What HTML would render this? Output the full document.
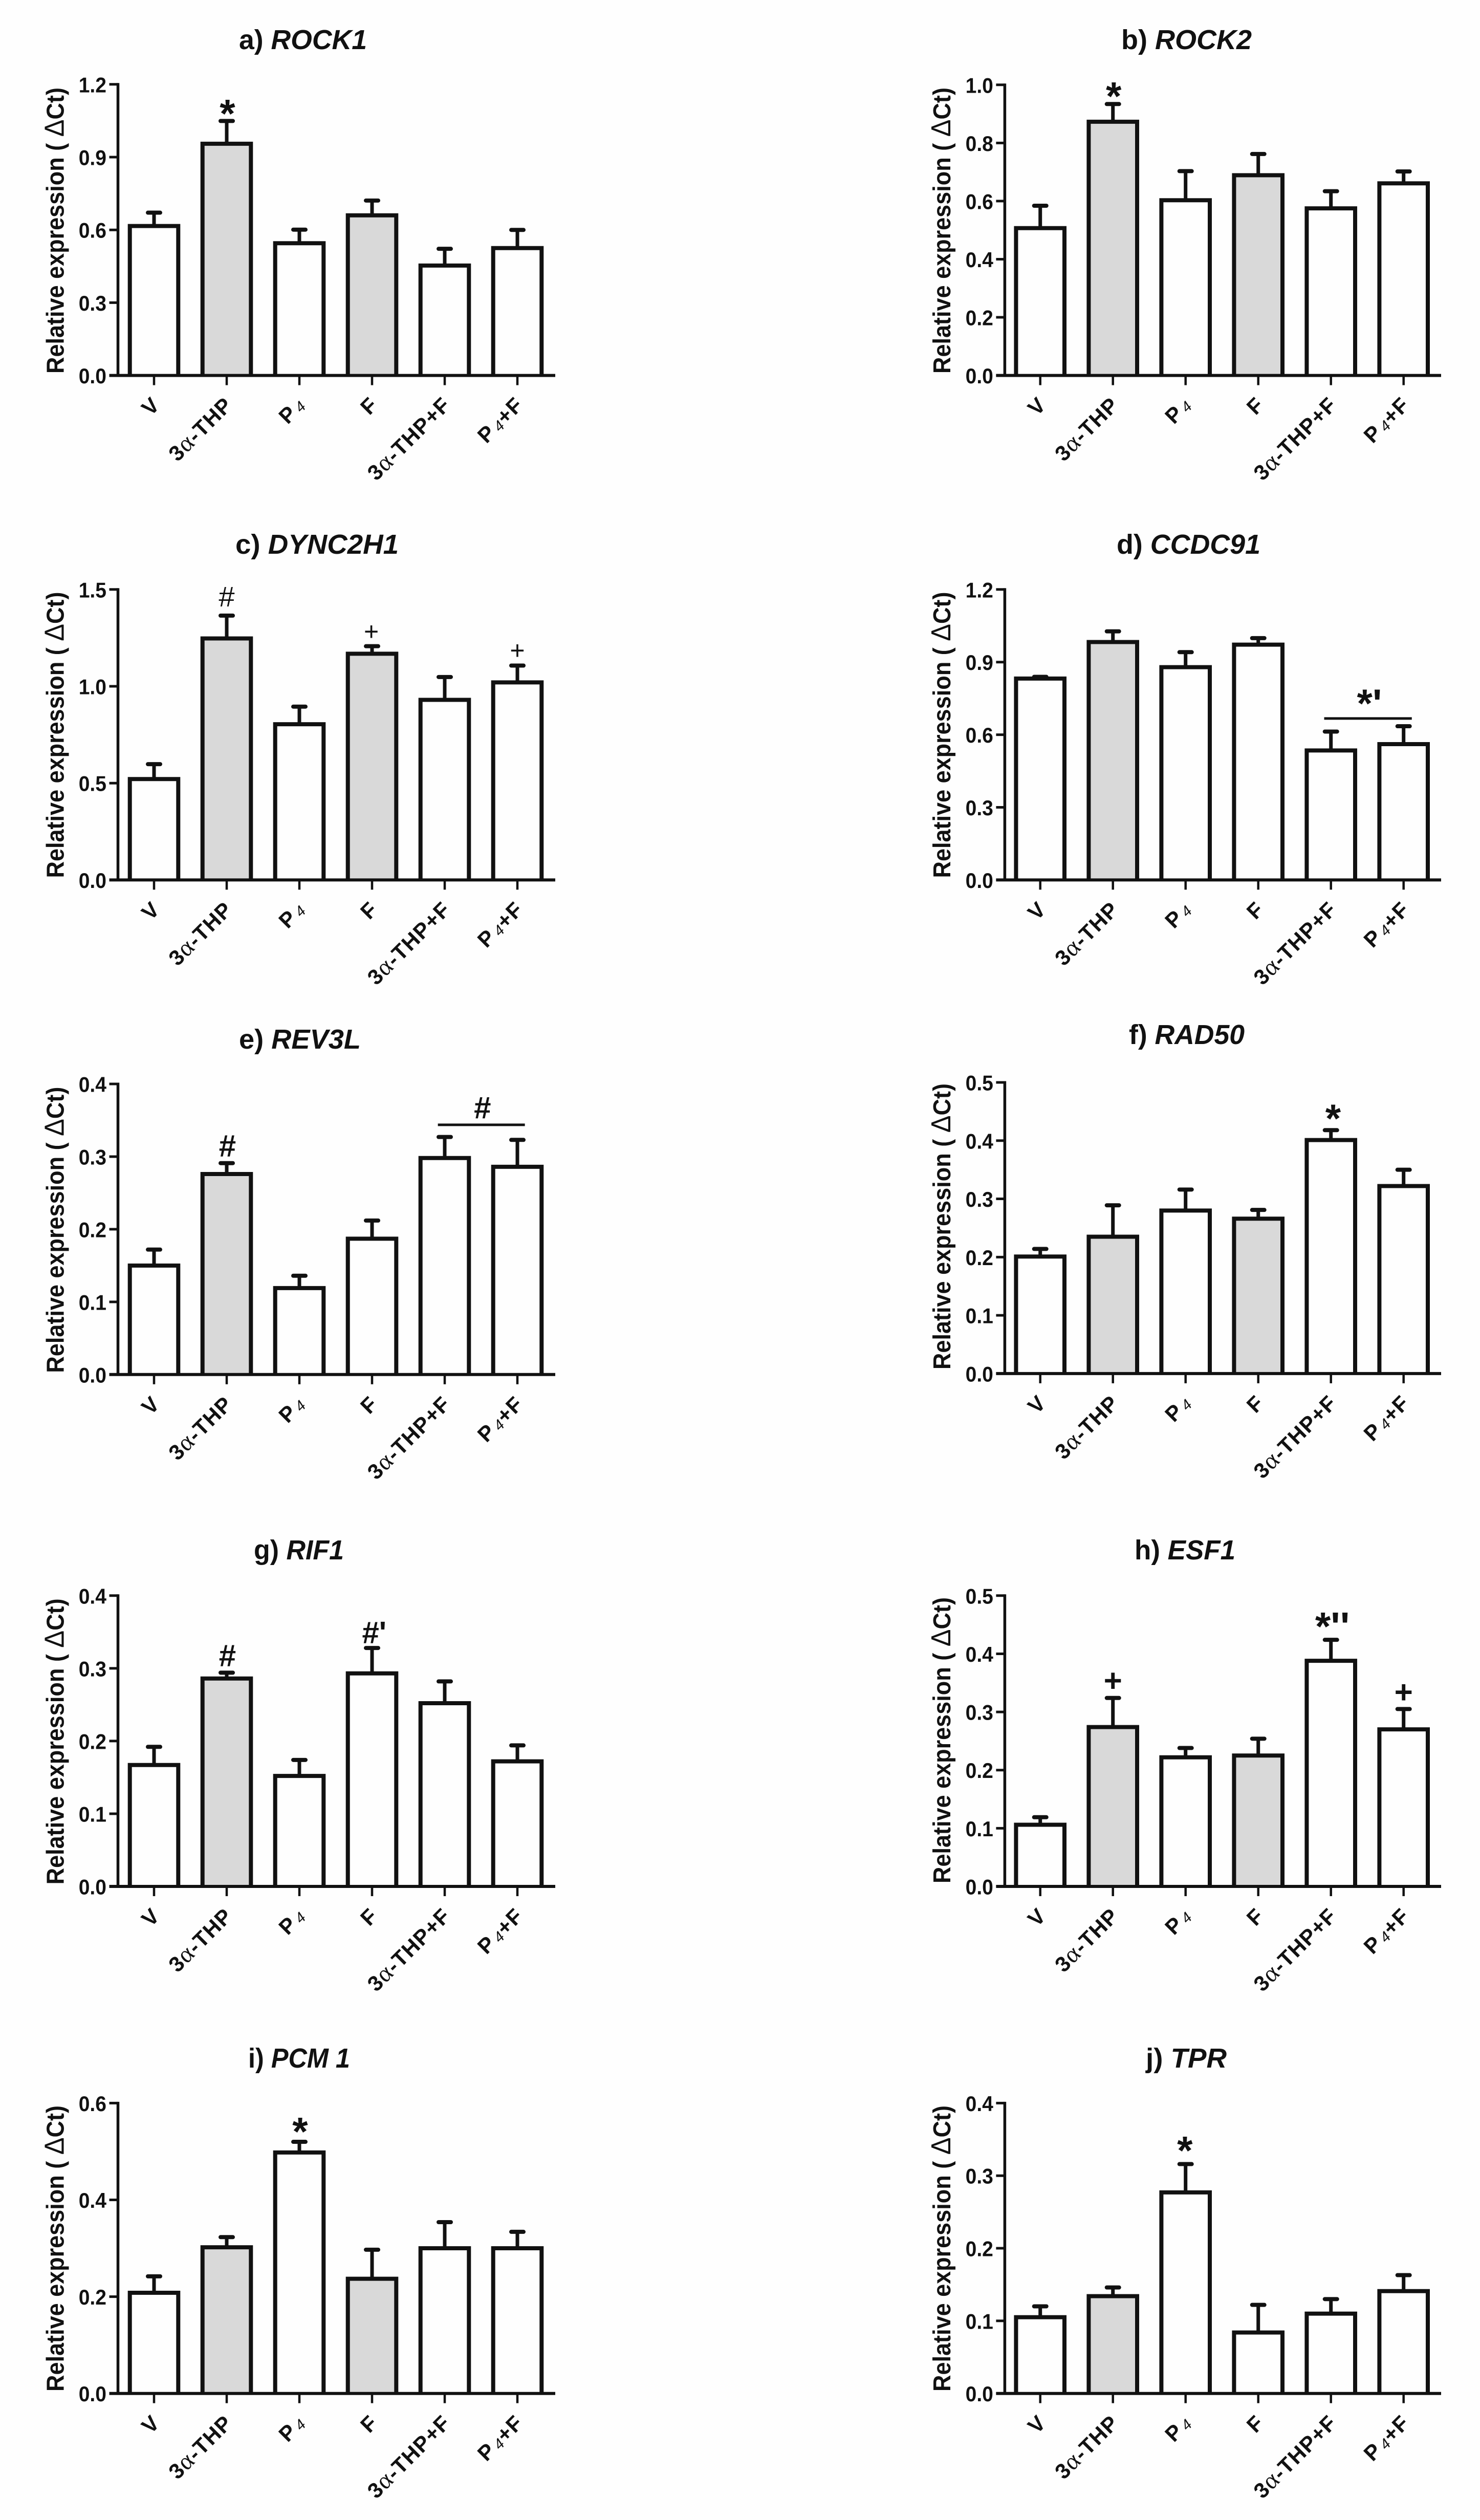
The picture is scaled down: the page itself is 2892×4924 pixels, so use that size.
<!DOCTYPE html>
<html lang="en">
<head>
<meta charset="utf-8">
<title>Relative expression panels</title>
<style>
html,body{margin:0;padding:0;background:#fefefe}
svg{display:block}
text{font-family:"Liberation Sans",sans-serif;fill:#111;font-weight:bold}
.title{font-size:54px}
.ytitle{font-size:48px}
.ytitle tspan{font-weight:normal;font-size:54px}
.gene{font-style:italic}
</style>
</head>
<body>
<svg id="figure" xmlns="http://www.w3.org/2000/svg" width="2892" height="4924" viewBox="0 0 2892 4924">
<rect x="0" y="0" width="2892" height="4924" fill="#fefefe"/>

<g id="panel-a">
<text class="title" x="467" y="96" textLength="250" lengthAdjust="spacingAndGlyphs">a) <tspan class="gene">ROCK1</tspan></text>
<text class="ytitle" transform="translate(124.4 730) rotate(-90)" textLength="559" lengthAdjust="spacingAndGlyphs">Relative expression ( <tspan>Δ</tspan>Ct)</text>
</g>
<g id="panel-b">
<text class="title" x="2191" y="96" textLength="255" lengthAdjust="spacingAndGlyphs">b) <tspan class="gene">ROCK2</tspan></text>
<text class="ytitle" transform="translate(1857 730) rotate(-90)" textLength="559" lengthAdjust="spacingAndGlyphs">Relative expression ( <tspan>Δ</tspan>Ct)</text>
</g>
<g id="panel-c">
<text class="title" x="460" y="1082" textLength="319" lengthAdjust="spacingAndGlyphs">c) <tspan class="gene">DYNC2H1</tspan></text>
<text class="ytitle" transform="translate(124.4 1715.5) rotate(-90)" textLength="559" lengthAdjust="spacingAndGlyphs">Relative expression ( <tspan>Δ</tspan>Ct)</text>
</g>
<g id="panel-d">
<text class="title" x="2182" y="1082" textLength="281" lengthAdjust="spacingAndGlyphs">d) <tspan class="gene">CCDC91</tspan></text>
<text class="ytitle" transform="translate(1857 1715.5) rotate(-90)" textLength="559" lengthAdjust="spacingAndGlyphs">Relative expression ( <tspan>Δ</tspan>Ct)</text>
</g>
<g id="panel-e">
<text class="title" x="467" y="2049" textLength="238" lengthAdjust="spacingAndGlyphs">e) <tspan class="gene">REV3L</tspan></text>
<text class="ytitle" transform="translate(124.4 2682.6) rotate(-90)" textLength="559" lengthAdjust="spacingAndGlyphs">Relative expression ( <tspan>Δ</tspan>Ct)</text>
</g>
<g id="panel-f">
<text class="title" x="2206" y="2040" textLength="226" lengthAdjust="spacingAndGlyphs">f) <tspan class="gene">RAD50</tspan></text>
<text class="ytitle" transform="translate(1857 2676) rotate(-90)" textLength="559" lengthAdjust="spacingAndGlyphs">Relative expression ( <tspan>Δ</tspan>Ct)</text>
</g>
<g id="panel-g">
<text class="title" x="496" y="3047" textLength="176" lengthAdjust="spacingAndGlyphs">g) <tspan class="gene">RIF1</tspan></text>
<text class="ytitle" transform="translate(124.4 3682.4) rotate(-90)" textLength="559" lengthAdjust="spacingAndGlyphs">Relative expression ( <tspan>Δ</tspan>Ct)</text>
</g>
<g id="panel-h">
<text class="title" x="2217" y="3047" textLength="197" lengthAdjust="spacingAndGlyphs">h) <tspan class="gene">ESF1</tspan></text>
<text class="ytitle" transform="translate(1857 3680) rotate(-90)" textLength="559" lengthAdjust="spacingAndGlyphs">Relative expression ( <tspan>Δ</tspan>Ct)</text>
</g>
<g id="panel-i">
<text class="title" x="485" y="4040" textLength="199" lengthAdjust="spacingAndGlyphs">i) <tspan class="gene">PCM 1</tspan></text>
<text class="ytitle" transform="translate(124.4 4673) rotate(-90)" textLength="559" lengthAdjust="spacingAndGlyphs">Relative expression ( <tspan>Δ</tspan>Ct)</text>
</g>
<g id="panel-j">
<text class="title" x="2239" y="4040" textLength="158" lengthAdjust="spacingAndGlyphs">j) <tspan class="gene">TPR</tspan></text>
<text class="ytitle" transform="translate(1857 4673) rotate(-90)" textLength="559" lengthAdjust="spacingAndGlyphs">Relative expression ( <tspan>Δ</tspan>Ct)</text>
</g>
</svg>

<script>
// ---- Data ----
const categories = ['V', '3α-THP', 'P4', 'F', '3α-THP+F', 'P4+F'];

const rock1Ticks = ['0.0', '0.3', '0.6', '0.9', '1.2'];
const rock1Values = [0.616, 0.955, 0.545, 0.66, 0.453, 0.525];
const rock1Upper = [0.671, 1.049, 0.601, 0.721, 0.522, 0.6];
const rock1Shaded = [1, 3];
const rock1Notes = [{cat: 1.01, level: 1.11, text: '*', kind: 'star'}];
const rock1Brackets = [];

const rock2Ticks = ['0.0', '0.2', '0.4', '0.6', '0.8', '1.0'];
const rock2Values = [0.507, 0.873, 0.603, 0.689, 0.575, 0.661];
const rock2Upper = [0.584, 0.934, 0.703, 0.762, 0.634, 0.702];
const rock2Shaded = [1, 3];
const rock2Notes = [{cat: 1.01, level: 0.986, text: '*', kind: 'star'}];
const rock2Brackets = [];

const dync2h1Ticks = ['0.0', '0.5', '1.0', '1.5'];
const dync2h1Values = [0.521, 1.247, 0.804, 1.168, 0.93, 1.02];
const dync2h1Upper = [0.598, 1.365, 0.895, 1.207, 1.048, 1.107];
const dync2h1Shaded = [1, 3];
const dync2h1Notes = [
  {cat: 1, level: 1.463, text: '#', kind: 'hash'},
  {cat: 2.99, level: 1.283, text: '+', kind: 'plus'},
  {cat: 5, level: 1.185, text: '+', kind: 'plus'}
];
const dync2h1Brackets = [];

const ccdc91Ticks = ['0.0', '0.3', '0.6', '0.9', '1.2'];
const ccdc91Values = [0.832, 0.983, 0.879, 0.972, 0.535, 0.561];
const ccdc91Upper = [0.839, 1.027, 0.941, 0.999, 0.613, 0.635];
const ccdc91Shaded = [1];
const ccdc91Notes = [{cat: 4.53, level: 0.76, text: "*'", kind: 'star'}];
const ccdc91Brackets = [{from: 3.907, to: 5.113, level: 0.667}];

const rev3lTicks = ['0.0', '0.1', '0.2', '0.3', '0.4'];
const rev3lValues = [0.15, 0.276, 0.119, 0.187, 0.298, 0.286];
const rev3lUpper = [0.172, 0.291, 0.136, 0.212, 0.327, 0.323];
const rev3lShaded = [1];
const rev3lNotes = [
  {cat: 1.01, level: 0.315, text: '#', kind: 'hashBold'},
  {cat: 4.52, level: 0.3676, text: '#', kind: 'hashBold'}
];
const rev3lBrackets = [{from: 3.906, to: 5.103, level: 0.3437}];

const rad50Ticks = ['0.0', '0.1', '0.2', '0.3', '0.4', '0.5'];
const rad50Values = [0.201, 0.235, 0.28, 0.266, 0.401, 0.322];
const rad50Upper = [0.214, 0.289, 0.316, 0.281, 0.418, 0.35];
const rad50Shaded = [1, 3];
const rad50Notes = [{cat: 4.03, level: 0.451, text: '*', kind: 'star'}];
const rad50Brackets = [];

const rif1Ticks = ['0.0', '0.1', '0.2', '0.3', '0.4'];
const rif1Values = [0.167, 0.286, 0.152, 0.293, 0.252, 0.172];
const rif1Upper = [0.192, 0.294, 0.174, 0.328, 0.282, 0.194];
const rif1Shaded = [1];
const rif1Notes = [
  {cat: 1.01, level: 0.318, text: '#', kind: 'hashBold'},
  {cat: 3.03, level: 0.3496, text: "#'", kind: 'hashBold'}
];
const rif1Brackets = [];

const esf1Ticks = ['0.0', '0.1', '0.2', '0.3', '0.4', '0.5'];
const esf1Values = [0.106, 0.274, 0.222, 0.225, 0.388, 0.27];
const esf1Upper = [0.119, 0.324, 0.238, 0.254, 0.424, 0.305];
const esf1Shaded = [1, 3];
const esf1Notes = [
  {cat: 1, level: 0.3537, text: '+', kind: 'plusBold'},
  {cat: 4.02, level: 0.4596, text: "*''", kind: 'star'},
  {cat: 5, level: 0.334, text: '+', kind: 'plusBold'}
];
const esf1Brackets = [];

const pcm1Ticks = ['0.0', '0.2', '0.4', '0.6'];
const pcm1Values = [0.208, 0.302, 0.498, 0.237, 0.3, 0.3];
const pcm1Upper = [0.242, 0.323, 0.52, 0.297, 0.354, 0.334];
const pcm1Shaded = [1, 3];
const pcm1Notes = [{cat: 2.01, level: 0.5565, text: '*', kind: 'star'}];
const pcm1Brackets = [];

const tprTicks = ['0.0', '0.1', '0.2', '0.3', '0.4'];
const tprValues = [0.105, 0.134, 0.277, 0.084, 0.11, 0.141];
const tprUpper = [0.12, 0.146, 0.316, 0.122, 0.13, 0.163];
const tprShaded = [1];
const tprNotes = [{cat: 1.99, level: 0.345, text: '*', kind: 'star'}];
const tprBrackets = [];

// ---- Layout and styling ----
const INK = '#111';
const GREY = '#d9d9d9';
const PAPER = '#fefefe';
const SVG_NS = 'http://www.w3.org/2000/svg';
const LEFT = {axisX: 230.5, firstX: 301, endX: 1085};
const RIGHT = {axisX: 1963.4, firstX: 2032.7, endX: 2816};
const STEP = 142;
const noteStyles = {
  star: {size: 78, weight: 'bold', drop: 41},
  hash: {size: 56, weight: 'normal', drop: 19},
  hashBold: {size: 60, weight: 'bold', drop: 21},
  plus: {size: 50, weight: 'normal', drop: 17},
  plusBold: {size: 62, weight: 'bold', drop: 21}
};

const panels = [
  {id: 'panel-a', slug: 'rock1', col: LEFT, top: 164.8, base: 733.6, ticks: rock1Ticks, values: rock1Values, upper: rock1Upper, shaded: rock1Shaded, notes: rock1Notes, brackets: rock1Brackets},
  {id: 'panel-b', slug: 'rock2', col: RIGHT, top: 165.8, base: 733.6, ticks: rock2Ticks, values: rock2Values, upper: rock2Upper, shaded: rock2Shaded, notes: rock2Notes, brackets: rock2Brackets},
  {id: 'panel-c', slug: 'dync2h1', col: LEFT, top: 1151.8, base: 1719.4, ticks: dync2h1Ticks, values: dync2h1Values, upper: dync2h1Upper, shaded: dync2h1Shaded, notes: dync2h1Notes, brackets: dync2h1Brackets},
  {id: 'panel-d', slug: 'ccdc91', col: RIGHT, top: 1151.8, base: 1719.4, ticks: ccdc91Ticks, values: ccdc91Values, upper: ccdc91Upper, shaded: ccdc91Shaded, notes: ccdc91Notes, brackets: ccdc91Brackets},
  {id: 'panel-e', slug: 'rev3l', col: LEFT, top: 2118, base: 2685.8, ticks: rev3lTicks, values: rev3lValues, upper: rev3lUpper, shaded: rev3lShaded, notes: rev3lNotes, brackets: rev3lBrackets},
  {id: 'panel-f', slug: 'rad50', col: RIGHT, top: 2115, base: 2683.9, ticks: rad50Ticks, values: rad50Values, upper: rad50Upper, shaded: rad50Shaded, notes: rad50Notes, brackets: rad50Brackets},
  {id: 'panel-g', slug: 'rif1', col: LEFT, top: 3117.8, base: 3686, ticks: rif1Ticks, values: rif1Values, upper: rif1Upper, shaded: rif1Shaded, notes: rif1Notes, brackets: rif1Brackets},
  {id: 'panel-h', slug: 'esf1', col: RIGHT, top: 3117.8, base: 3686, ticks: esf1Ticks, values: esf1Values, upper: esf1Upper, shaded: esf1Shaded, notes: esf1Notes, brackets: esf1Brackets},
  {id: 'panel-i', slug: 'pcm1', col: LEFT, top: 4109.4, base: 4676.7, ticks: pcm1Ticks, values: pcm1Values, upper: pcm1Upper, shaded: pcm1Shaded, notes: pcm1Notes, brackets: pcm1Brackets},
  {id: 'panel-j', slug: 'tpr', col: RIGHT, top: 4109.4, base: 4676.7, ticks: tprTicks, values: tprValues, upper: tprUpper, shaded: tprShaded, notes: tprNotes, brackets: tprBrackets}
];

function make(tag, props, parent) {
  const node = document.createElementNS(SVG_NS, tag);
  for (const key in props) node.setAttribute(key, props[key]);
  parent.appendChild(node);
  return node;
}

// Category labels: alpha is thin and serif, the P4 subscript is small and light.
function fillCategoryLabel(node, label) {
  const runs = label.match(/α|4|[^α4]+/g);
  let lifted = false;
  runs.forEach(function (run) {
    const span = make('tspan', {}, node);
    span.textContent = run;
    if (run === 'α') {
      span.setAttribute('font-family', '"Liberation Serif", serif');
      span.setAttribute('font-weight', 'normal');
      span.setAttribute('font-size', '48');
    } else if (run === '4') {
      span.setAttribute('font-size', '29');
      span.setAttribute('font-weight', 'normal');
      span.setAttribute('font-style', 'italic');
      span.setAttribute('dx', '5');
      span.setAttribute('dy', '2');
      lifted = true;
    } else if (lifted) {
      span.setAttribute('dy', '-2');
      lifted = false;
    }
  });
}

function drawPanel(p) {
  const host = document.getElementById(p.id);
  const maxValue = parseFloat(p.ticks[p.ticks.length - 1]);
  const yOf = function (v) { return p.base - (v / maxValue) * (p.base - p.top); };
  const xOf = function (c) { return p.col.firstX + c * STEP; };
  const halfBar = 47.3;
  const capHalf = 12;

  // error bars sit behind the bars
  categories.forEach(function (cat, i) {
    const stem = make('line', {x1: xOf(i), x2: xOf(i), y1: yOf(p.values[i]), y2: yOf(p.upper[i]), stroke: INK, 'stroke-width': 7}, host);
    
    
    const cap = make('line', {x1: xOf(i) - capHalf, x2: xOf(i) + capHalf, y1: yOf(p.upper[i]), y2: yOf(p.upper[i]), stroke: INK, 'stroke-width': 8, 'stroke-linecap': 'round'}, host);
    
    
  });

  // bars
  categories.forEach(function (cat, i) {
    const left = xOf(i) - halfBar;
    const right = xOf(i) + halfBar;
    const d = 'M' + left + ' ' + p.base + 'V' + yOf(p.values[i]) + 'H' + right + 'V' + p.base;
    const fill = p.shaded.indexOf(i) >= 0 ? GREY : PAPER;
    const bar = make('path', {d: d, fill: fill, stroke: INK, 'stroke-width': 8, 'stroke-linejoin': 'miter'}, host);
    
    
  });

  // y axis
  const yAxis = make('line', {x1: p.col.axisX, x2: p.col.axisX, y1: p.top - 2.5, y2: p.base, stroke: INK, 'stroke-width': 5.5}, host);
  
  
  p.ticks.forEach(function (label) {
    const y = yOf(parseFloat(label));
    const tick = make('line', {x1: p.col.axisX - 17, x2: p.col.axisX, y1: y, y2: y, stroke: INK, 'stroke-width': 5}, host);
    
    
    const text = make('text', {'text-anchor': 'end', 'font-size': 42, transform: 'translate(' + (p.col.axisX - 22.5) + ' ' + (y + 15.5) + ') scale(0.93 1)'}, host);
    text.textContent = label;
    
    
  });

  // x axis
  const xAxis = make('line', {x1: p.col.axisX - 17, x2: p.col.endX, y1: p.base, y2: p.base, stroke: INK, 'stroke-width': 6}, host);
  
  
  categories.forEach(function (cat, i) {
    const tick = make('line', {x1: xOf(i), x2: xOf(i), y1: p.base, y2: p.base + 19, stroke: INK, 'stroke-width': 4.5}, host);
    
    
    const text = make('text', {'text-anchor': 'end', 'font-size': 42, 'letter-spacing': 1.5, transform: 'translate(' + (xOf(i) + 14) + ' ' + (p.base + 60) + ') rotate(-45)'}, host);
    fillCategoryLabel(text, cat);
    
    
  });

  // significance brackets
  p.brackets.forEach(function (b) {
    const line = make('line', {x1: xOf(b.from), x2: xOf(b.to), y1: yOf(b.level), y2: yOf(b.level), stroke: INK, 'stroke-width': 5}, host);
    
    
  });

  // significance symbols
  p.notes.forEach(function (n) {
    const look = noteStyles[n.kind];
    const mark = make('text', {x: xOf(n.cat), y: yOf(n.level) + look.drop, 'text-anchor': 'middle', 'font-size': look.size, style: 'font-weight:' + look.weight}, host);
    mark.textContent = n.text;
    
    
  });
}

panels.forEach(drawPanel);
</script>
</body>
</html>
